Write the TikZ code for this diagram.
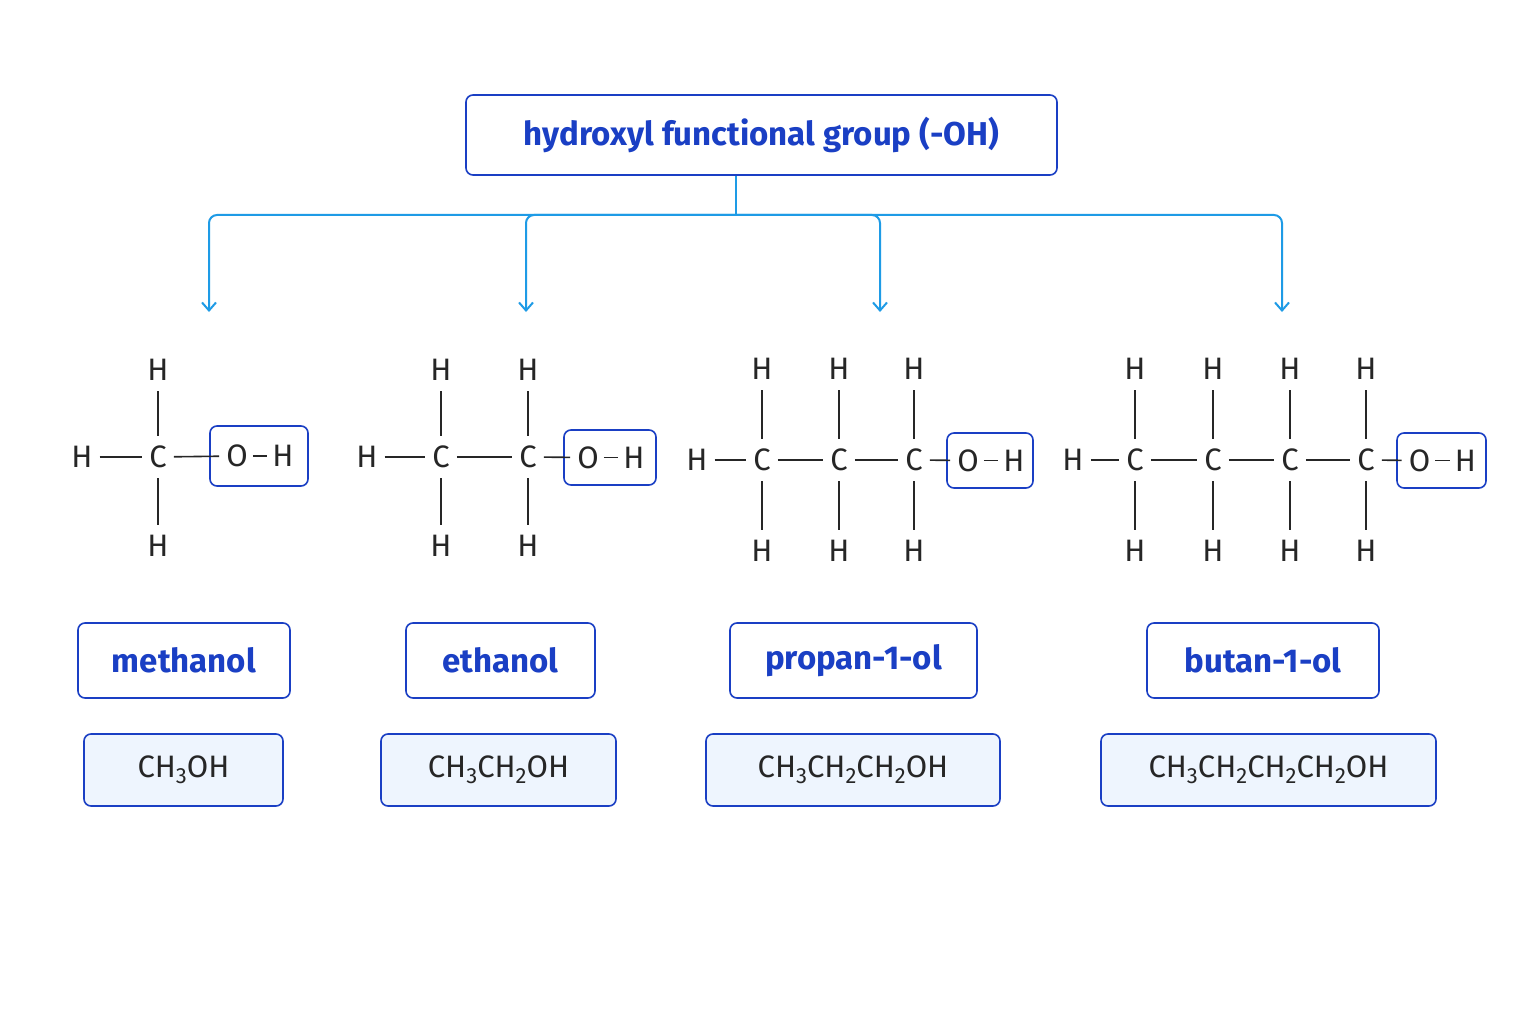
\documentclass[tikz,border=0pt]{standalone}
\usepackage{fontspec}
\setmainfont{Fira Sans}
\usetikzlibrary{arrows.meta}
\definecolor{dblue}{HTML}{1A3FC4}
\definecolor{lblue}{HTML}{1E9BE6}
\definecolor{fillb}{HTML}{EEF5FE}
\newcommand\sbs[1]{\raisebox{-0.35ex}{\fontsize{22}{24}\selectfont #1}}
\begin{document}
\begin{tikzpicture}[x=1pt,y=-1pt,
 box/.style={draw=dblue,line width=1.6pt,rounded corners=7pt,text=dblue,font=\fontsize{33}{38}\selectfont\bfseries},
 fbox/.style={box,fill=fillb,text=black!85,font=\fontsize{31}{36}\selectfont},
 atm/.style={font=\fontsize{31}{36}\selectfont,inner sep=2pt,text=black!85},
 obox/.style={draw=dblue,line width=1.6pt,rounded corners=7pt},
 bd/.style={line width=1.6pt,black!85},
 hb/.style={bd,shorten <=5pt,shorten >=5pt},
 con/.style={draw=lblue,line width=2pt},
 arr/.style={con,-{Straight Barb[length=8pt,width=14pt]}}]
\useasboundingbox (0,0) rectangle (1536,1024);
\fill[white] (0,0) rectangle (1536,1024);
\node[box,minimum width=591pt,minimum height=80pt] (top) at (761.5,135) {hydroxyl functional group (-OH)};
\coordinate (j) at (736,215);
\draw[con] (top.south -| j) -- (j);
\foreach \x/\n in {209/a,526/b,880/c,1282/d}{
 \coordinate (k\n) at (\x,312);
 \draw[arr,rounded corners=8pt] (j) -- (\x,215) -- (k\n);}
\newcommand\mol[6]{%
 \node[atm] (#1hl) at (#2,#3) {H};
 \foreach \cx [count=\i] in {#6}{
  \node[atm] (#1c\i) at (\cx,#3) {C};
  \node[atm] (#1t\i) at (\cx,#4) {H};
  \node[atm] (#1b\i) at (\cx,#5) {H};
  \draw[bd] ([yshift=8pt]#1c\i.north) -- ([yshift=-8pt]#1t\i.south);
  \draw[bd] ([yshift=-8pt]#1c\i.south) -- ([yshift=8pt]#1b\i.north);
 }}
\mol{m}{82}{457}{370}{546}{158}
\mol{e}{367}{457}{370}{546}{441,528}
\mol{p}{697}{460}{369}{551}{762,839,914}
\mol{u}{1073}{460}{369}{551}{1135,1213,1290,1366}
\draw[hb] (mhl) -- (mc1);
\draw[hb] (ehl) -- (ec1); \draw[hb] (ec1) -- (ec2);
\draw[hb] (phl) -- (pc1); \draw[hb] (pc1) -- (pc2); \draw[hb] (pc2) -- (pc3);
\draw[hb] (uhl) -- (uc1); \draw[hb] (uc1) -- (uc2); \draw[hb] (uc2) -- (uc3); \draw[hb] (uc3) -- (uc4);
\node[obox,minimum width=98pt,minimum height=60pt] (mo) at (259,456) {};
\node[obox,minimum width=92pt,minimum height=55pt] (eo) at (610,457.5) {};
\node[obox,minimum width=86pt,minimum height=55pt] (po) at (990,460.5) {};
\node[obox,minimum width=89pt,minimum height=55pt] (uo) at (1441.5,460.5) {};
\foreach \n/\c in {m/mc1,e/ec2,p/pc3,u/uc4}{
 \node[atm] (\n O) at ([xshift=-22pt]\n o.center) {O};
 \node[atm] (\n H) at ([xshift=24pt]\n o.center) {H};
 \draw[hb] (\c) -- (\n O);
 \draw[hb,shorten <=3pt,shorten >=3pt] (\n O) -- (\n H);}
\node[box,minimum width=212pt,minimum height=75pt] (n1) at (184,660.5) {methanol};
\node[box,minimum width=189pt,minimum height=75pt] (n2) at (500.5,660.5) {ethanol};
\node[box,minimum width=247pt,minimum height=75pt] (n3) at (853.5,660.5) {propan-1-ol};
\node[box,minimum width=232pt,minimum height=75pt] (n4) at (1263,660.5) {butan-1-ol};
\node[fbox,minimum width=199pt,minimum height=72pt] (f1) at (183.5,770) {CH\sbs{3}OH};
\node[fbox,minimum width=235pt,minimum height=72pt] (f2) at (498.5,770) {CH\sbs{3}CH\sbs{2}OH};
\node[fbox,minimum width=294pt,minimum height=72pt] (f3) at (853,770) {CH\sbs{3}CH\sbs{2}CH\sbs{2}OH};
\node[fbox,minimum width=335pt,minimum height=72pt] (f4) at (1268.5,770) {CH\sbs{3}CH\sbs{2}CH\sbs{2}CH\sbs{2}OH};
\end{tikzpicture}
\end{document}
